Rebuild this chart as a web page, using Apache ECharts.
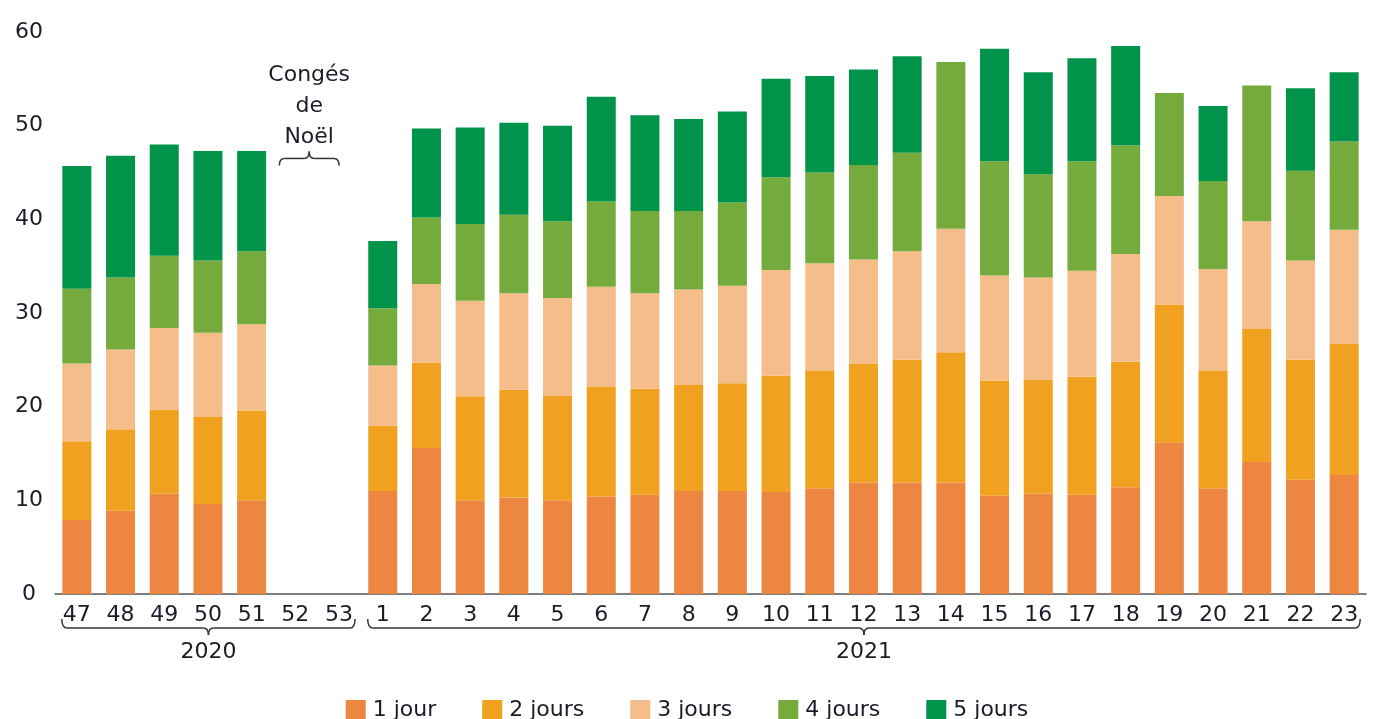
<!DOCTYPE html>
<html>
<head>
<meta charset="utf-8">
<title>Jours de télétravail par semaine</title>
<script src="https://cdn.jsdelivr.net/npm/echarts@6/dist/echarts.min.js"></script>
<style>
  html, body { margin: 0; padding: 0; background: #fff; }
  #chart { width: 1374px; height: 719px; }
</style>
</head>
<body>
<div id="chart"></div>
<script>
// semaines (52 et 53 : congés de Noël, pas de données)
const weeks = ['47', '48', '49', '50', '51', '52', '53',
  '1', '2', '3', '4', '5', '6', '7', '8', '9', '10', '11', '12',
  '13', '14', '15', '16', '17', '18', '19', '20', '21', '22', '23'];
const years = [
  { label: '2020', from: '47', to: '53' },
  { label: '2021', from: '1', to: '23' }
];
const seriesNames = ['1 jour', '2 jours', '3 jours', '4 jours', '5 jours'];

const jour1 = [7.9, 8.9, 10.7, 9.6, 10.0, null, null, 11.0, 15.6, 10.0, 10.3, 10.0, 10.4, 10.6, 11.0,
  11.0, 10.9, 11.3, 11.9, 11.9, 11.9, 10.5, 10.7, 10.6, 11.4, 16.2, 11.3, 14.1, 12.2, 12.7];
const jours2 = [8.4, 8.7, 9.0, 9.3, 9.6, null, null, 7.0, 9.1, 11.1, 11.5, 11.2, 11.7, 11.3, 11.3,
  11.5, 12.4, 12.5, 12.7, 13.1, 13.9, 12.3, 12.2, 12.6, 13.4, 14.7, 12.5, 14.2, 12.8, 14.0];
const jours3 = [8.3, 8.5, 8.7, 9.0, 9.2, null, null, 6.4, 8.4, 10.2, 10.3, 10.4, 10.7, 10.2, 10.2,
  10.4, 11.3, 11.5, 11.1, 11.6, 13.2, 11.2, 10.9, 11.3, 11.5, 11.6, 10.9, 11.5, 10.6, 12.2];
const jours4 = [8.0, 7.7, 7.7, 7.7, 7.8, null, null, 6.1, 7.1, 8.2, 8.4, 8.2, 9.1, 8.8, 8.4,
  8.9, 9.9, 9.7, 10.1, 10.5, 17.8, 12.2, 11.0, 11.7, 11.6, 11.0, 9.4, 14.5, 9.6, 9.4];
const jours5 = [13.1, 13.0, 11.9, 11.7, 10.7, null, null, 7.2, 9.5, 10.3, 9.8, 10.2, 11.2, 10.2, 9.8,
  9.7, 10.5, 10.3, 10.2, 10.3, null, 12.0, 10.9, 11.0, 10.6, null, 8.0, null, 8.8, 7.4];

const colors = ['#ED8640', '#EFA11F', '#F5BD8A', '#75AB3D', '#00944A'];
const textColor = '#1c1b2a';
const fontFamily = 'DejaVu Sans';

const chart = echarts.init(document.getElementById('chart'));

chart.setOption({
  animation: false,
  color: colors,
  textStyle: { fontFamily: fontFamily, color: textColor },
  grid: { left: 55, right: 8, top: 32, bottom: 125 },
  legend: {
    top: 694,
    left: 'center',
    itemWidth: 20,
    itemHeight: 20,
    itemGap: 46,
    icon: 'rect',
    textStyle: { fontSize: 22, color: textColor, fontFamily: fontFamily, padding: [0, 0, 0, 2] },
    data: seriesNames
  },
  xAxis: {
    type: 'category',
    data: weeks,
    axisTick: { show: false },
    axisLine: { lineStyle: { color: '#555', width: 1.5 } },
    axisLabel: { interval: 0, fontSize: 22, color: textColor, margin: 10 }
  },
  yAxis: {
    type: 'value',
    min: 0,
    max: 60,
    interval: 10,
    splitLine: { show: false },
    axisLine: { show: false },
    axisTick: { show: false },
    axisLabel: { fontSize: 22, color: textColor, align: 'center', margin: 26 }
  },
  series: [jour1, jours2, jours3, jours4, jours5].map((d, i) => ({
    name: seriesNames[i],
    type: 'bar',
    stack: 'total',
    barWidth: 29,
    data: d
  }))
});

// accolade : lignes + petites courbes (dir = 1 pointe vers le bas, -1 vers le haut)
function brace(x1, x2, xm, y, dir, h) {
  const r = 5;
  const st = { stroke: '#333', lineWidth: 1.5, fill: null };
  const curve = (ax, ay, cx, cy, bx, by) => ({
    type: 'bezierCurve',
    shape: { x1: ax, y1: ay, cpx1: cx, cpy1: cy, x2: bx, y2: by },
    style: st
  });
  const line = (ax, bx) => ({
    type: 'line',
    shape: { x1: ax, y1: y, x2: bx, y2: y },
    style: st
  });
  return [
    curve(x1, y - h * dir, x1, y, x1 + r, y),
    line(x1 + r, xm - r),
    curve(xm - r, y, xm, y, xm, y + 7 * dir),
    curve(xm, y + 7 * dir, xm, y, xm + r, y),
    line(xm + r, x2 - r),
    curve(x2 - r, y, x2, y, x2, y - h * dir)
  ];
}

function drawAnnotations() {
  const y0 = chart.convertToPixel({ yAxisIndex: 0 }, 0);
  let elements = [];
  years.forEach(function (yr) {
    const a = chart.convertToPixel({ xAxisIndex: 0 }, yr.from) - 15;
    const b = chart.convertToPixel({ xAxisIndex: 0 }, yr.to) + 16;
    const m = (a + b) / 2;
    const yb = y0 + 34;
    elements = elements.concat(brace(a, b, m, yb, 1, 9));
    elements.push({
      type: 'text',
      x: m,
      y: yb + 24,
      style: { text: yr.label, fontSize: 22, fontFamily: fontFamily, fill: textColor, align: 'center', verticalAlign: 'middle' }
    });
  });

  // Congés de Noël
  const n1 = chart.convertToPixel({ xAxisIndex: 0 }, '52') - 16;
  const n2 = chart.convertToPixel({ xAxisIndex: 0 }, '53');
  const nm = (n1 + n2) / 2;
  const ny = chart.convertToPixel({ yAxisIndex: 0 }, 46.5);
  elements = elements.concat(brace(n1, n2, nm, ny, -1, 7));
  elements.push({
    type: 'text',
    x: nm,
    y: ny - 52,
    style: {
      text: 'Congés\nde\nNoël', fontSize: 22, lineHeight: 31, fontFamily: fontFamily,
      fill: textColor, align: 'center', verticalAlign: 'middle'
    }
  });

  chart.setOption({ graphic: { elements: elements } }, { replaceMerge: ['graphic'] });
}

drawAnnotations();

window.onresize = function () {
  chart.resize();
  drawAnnotations();
};
</script>
</body>
</html>
